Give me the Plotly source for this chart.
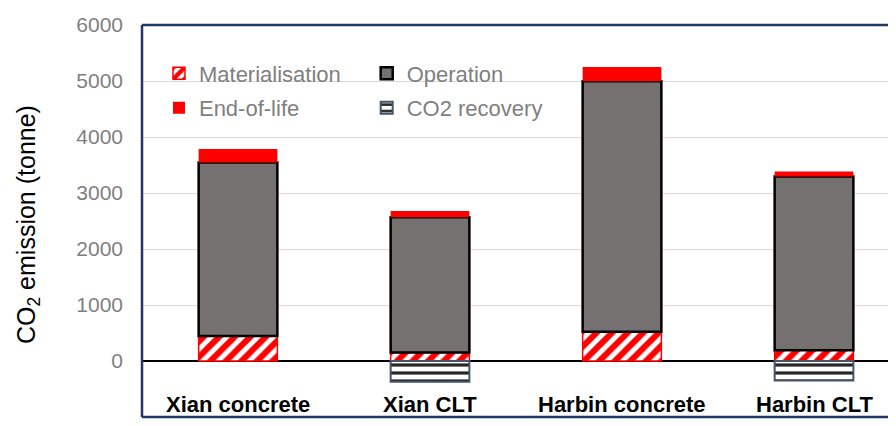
import plotly.graph_objects as go

categories = ["Xian concrete", "Xian CLT", "Harbin concrete", "Harbin CLT"]
materialisation = [447, 150, 524, 191]
operation = [3097, 2418, 4470, 3103]
end_of_life = [240, 112, 256, 90]
co2_recovery = [None, -370, None, -350]

y_ticks = [-1000, 0, 1000, 2000, 3000, 4000, 5000, 6000]

FONT = "Liberation Sans, Arial, sans-serif"
BW = 0.41

fig = go.Figure()
fig.add_trace(go.Bar(
    x=categories, y=materialisation, name="Materialisation", width=BW,
    marker=dict(color="white", line=dict(color="#FF0000", width=1.5),
                pattern=dict(shape="/", fgcolor="#FF0000", bgcolor="white", size=11,
                             solidity=0.55, fgopacity=1)),
    legend="legend", legendgroup="g1", legendrank=1))
fig.add_trace(go.Bar(
    x=categories, y=operation, name="Operation", width=BW,
    marker=dict(color="#767171", line=dict(color="#000000", width=2.5)),
    legend="legend2", legendgroup="g2", legendrank=1))
fig.add_trace(go.Bar(
    x=categories, y=end_of_life, name="End-of-life", width=BW,
    marker=dict(color="#FF0000", line=dict(width=0)),
    legend="legend", legendgroup="g3", legendrank=2))
fig.add_trace(go.Bar(
    x=categories, y=co2_recovery, name="CO2 recovery", width=BW,
    marker=dict(color="white", line=dict(color="#44546A", width=2),
                pattern=dict(shape="-", fgcolor="#262626", bgcolor="white", size=8,
                             solidity=0.4, fgopacity=1)),
    legend="legend2", legendgroup="g4", legendrank=2))

for c in categories:
    fig.add_annotation(x=c, y=-785, xref="x", yref="y", text="<b>%s</b>" % c,
                       showarrow=False, xanchor="center", yanchor="middle",
                       font=dict(family=FONT, size=22, color="black"))

fig.add_annotation(x=-0.151, y=0.49, xref="paper", yref="paper", textangle=-90,
                   text="CO<sub>2</sub> emission (tonne)", showarrow=False,
                   xanchor="center", yanchor="middle",
                   font=dict(family=FONT, size=25, color="black"))

navy = "#1F3864"
for (x0, y0, x1, y1) in [(0, 0, 0, 1), (0, 1, 1, 1), (0, 0, 1, 0)]:
    fig.add_shape(type="line", xref="paper", yref="paper", x0=x0, y0=y0, x1=x1, y1=y1,
                  line=dict(color=navy, width=2.5), layer="above")

legend_font = dict(family=FONT, size=22, color="#7F7F7F")
fig.update_layout(
    width=888, height=418,
    margin=dict(l=134, r=0, t=17, b=9),
    paper_bgcolor="white", plot_bgcolor="white",
    barmode="relative",
    showlegend=True,
    legend=dict(x=0.0225, y=0.93, xanchor="left", yanchor="top", bgcolor="rgba(0,0,0,0)",
                font=legend_font, traceorder="grouped", tracegroupgap=3),
    legend2=dict(x=0.298, y=0.93, xanchor="left", yanchor="top", bgcolor="rgba(0,0,0,0)",
                 font=legend_font, traceorder="grouped", tracegroupgap=3),
    xaxis=dict(range=[-0.5, 3.427], showticklabels=False, showgrid=False, zeroline=False,
               showline=False, fixedrange=True),
    yaxis=dict(range=[-1000, 6000], tickvals=y_ticks, showgrid=True, gridcolor="#D9D9D9",
               gridwidth=1, zeroline=True, zerolinecolor="black", zerolinewidth=2,
               showline=False, ticklabelstandoff=18,
               tickfont=dict(family=FONT, size=21, color="#7F7F7F")),
    font=dict(family=FONT),
)

fig.write_html("out.html")
